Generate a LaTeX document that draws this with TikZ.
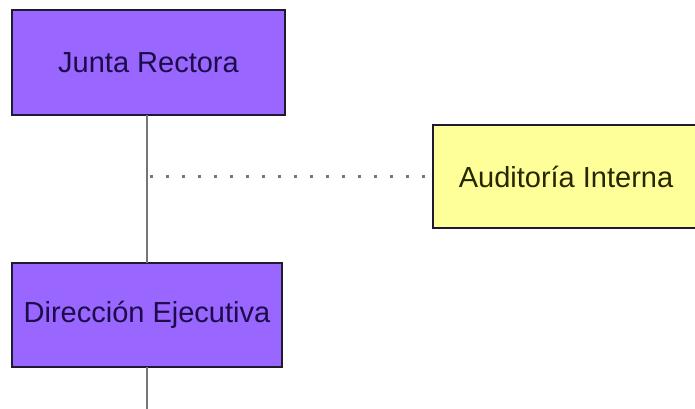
\documentclass[tikz,border=0pt]{standalone}
\usepackage{fontspec}
\setmainfont{Liberation Sans}
\definecolor{unitfill}{HTML}{9966FF}
\definecolor{unittext}{HTML}{1C0C4A}
\definecolor{auditfill}{HTML}{FFFF99}
\definecolor{audittext}{HTML}{262600}
\definecolor{boxline}{HTML}{1E1A30}
\definecolor{linkline}{HTML}{757575}
\begin{document}
\begin{tikzpicture}[x=1pt,y=-1pt,
  orgbox/.style={draw=boxline,line width=1.5pt,inner sep=0pt,outer sep=0pt,
    font=\fontsize{29}{31}\selectfont},
  unitbox/.style={orgbox,fill=unitfill,text=unittext},
  auditbox/.style={orgbox,fill=auditfill,text=audittext},
  solidlink/.style={draw=linkline,line width=2.4pt},
  dottedlink/.style={draw=linkline,line width=2.6pt,dash pattern=on 2.6pt off 13.4pt}]
  \clip (0,0) rectangle (695,408);
  \fill[white] (0,0) rectangle (695,408);
  % free ends of the connectors
  \coordinate (foot) at (147,412);
  \coordinate (tap) at (150,176.5);
  % organisational units
  \node[unitbox,minimum width=273pt,minimum height=105pt] (jr) at (148.5,62.5) {Junta Rectora};
  \node[unitbox,minimum width=270pt,minimum height=104pt] (de) at (147,315) {Dirección Ejecutiva};
  \node[auditbox,minimum width=266pt,minimum height=103pt] (ai) at (566,176.5) {Auditoría Interna};
  % reporting lines
  \draw[solidlink] (jr.south -| de.north) -- (de.north);
  \draw[solidlink] (de.south) -- (foot);
  \draw[dottedlink] (tap) -- (ai.west);
\end{tikzpicture}
\end{document}
